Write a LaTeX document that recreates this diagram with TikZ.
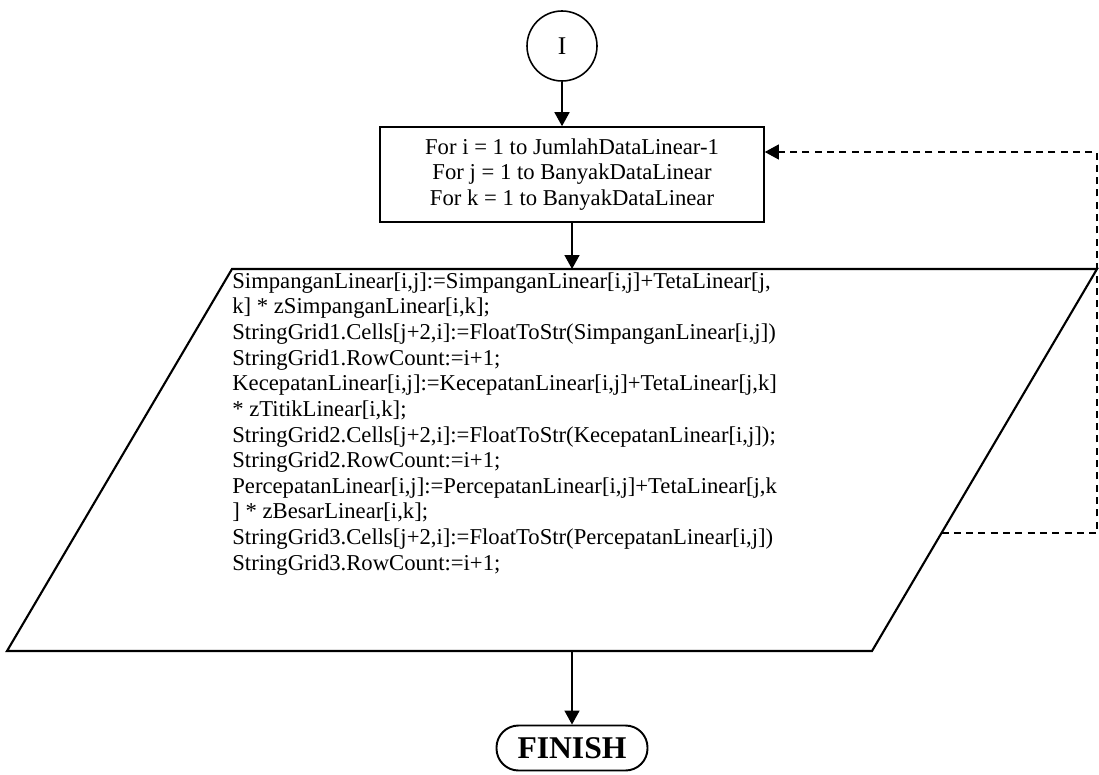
\documentclass[tikz,border=0pt]{standalone}
\usepackage{fontspec}
\setmainfont{Liberation Serif}
\usepackage{tikz}
\usetikzlibrary{arrows.meta,positioning,shapes.geometric}

\begin{document}
\begin{tikzpicture}[
    font=\fontsize{12.9}{14.6}\selectfont,
    conn/.style={circle, draw, line width=0.9pt, minimum size=1.4cm, inner sep=0pt,
                font=\fontsize{14.5}{16}\selectfont},
    loopbox/.style={rectangle, draw, line width=0.9pt, minimum width=7.68cm, minimum height=1.9cm,
                align=center, inner sep=2pt},
    code/.style={align=left, inner sep=0pt, anchor=north west},
    term/.style={rectangle, rounded corners=0.44cm, draw, line width=1.1pt, minimum width=3.02cm,
                minimum height=0.9cm, font=\fontsize{18}{20}\selectfont\bfseries},
    arr/.style={-{Triangle[length=2.8mm,width=3mm]}, line width=0.9pt},
    back/.style={-{Triangle[length=2.8mm,width=3mm]}, line width=0.6pt, dash pattern=on 4pt off 3pt}]
\useasboundingbox (0,0) rectangle (21.98,-15.48);
\node[conn] (I) at (11.24,-0.92) {I};
\node[loopbox] (loop) at (11.44,-3.49) {For i = 1 to JumlahDataLinear-1\\For j = 1 to BanyakDataLinear\\For k = 1 to BanyakDataLinear};
% parallelogram of the process
\coordinate (p1) at (4.64,-5.38); \coordinate (p2) at (21.94,-5.38);
\coordinate (p3) at (17.44,-13.02); \coordinate (p4) at (0.14,-13.02);
\draw[line width=1.2pt] (p1) -- (p2) -- (p3) -- (p4) -- cycle;
\node[code] (proc) at (4.64,-5.44) {SimpanganLinear[i,j]:=SimpanganLinear[i,j]+TetaLinear[j,\\
k] * zSimpanganLinear[i,k];\\
StringGrid1.Cells[j+2,i]:=FloatToStr(SimpanganLinear[i,j])\\
StringGrid1.RowCount:=i+1;\\
KecepatanLinear[i,j]:=KecepatanLinear[i,j]+TetaLinear[j,k]\\
{}* zTitikLinear[i,k];\\
StringGrid2.Cells[j+2,i]:=FloatToStr(KecepatanLinear[i,j]);\\
StringGrid2.RowCount:=i+1;\\
PercepatanLinear[i,j]:=PercepatanLinear[i,j]+TetaLinear[j,k\\
] * zBesarLinear[i,k];\\
StringGrid3.Cells[j+2,i]:=FloatToStr(PercepatanLinear[i,j])\\
StringGrid3.RowCount:=i+1;};
\node[term] (fin) at (11.44,-14.96) {FINISH};
\coordinate (loopout) at (18.83,-10.66);
\coordinate (loopin) at ([yshift=0.45cm]loop.east);
\draw[arr] (I.south) -- (I.south |- loop.north);
\draw[arr] (loop.south) -- (loop.south |- p1);
\draw[arr] (fin.north |- p4) -- (fin.north);
\draw[back] (loopout) -- ++(3.11,0) |- (loopin);
\end{tikzpicture}
\end{document}
